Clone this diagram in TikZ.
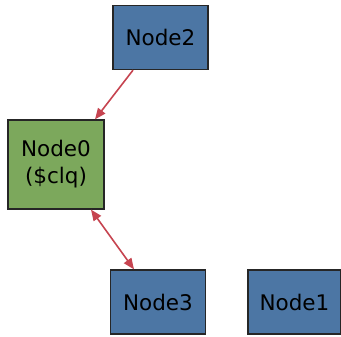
\documentclass[tikz,border=0pt]{standalone}
\usepackage{fontspec}
\setmainfont{DejaVu Sans}
\usetikzlibrary{arrows.meta}
\definecolor{nodeblue}{RGB}{76,118,164}
\definecolor{nodegreen}{RGB}{124,168,92}
\definecolor{edgered}{RGB}{198,68,80}
\begin{document}
\begin{tikzpicture}[x=1pt,y=1pt]
\tikzstyle{every node}+=[inner sep=0pt]
\tikzstyle{blk}=[draw=black!85, line width=1.3pt, fill=nodeblue, minimum width=95pt, minimum height=64pt, font=\fontsize{21.5}{27}\selectfont, align=center]
\tikzstyle{clq}=[blk, fill=nodegreen, minimum width=96pt, minimum height=89pt]
\tikzstyle{lnk}=[draw=edgered, line width=1.6pt, -{Triangle[length=11pt,width=9pt]}]
\useasboundingbox (0,0) rectangle (341,-337);
% the nodes
\node [blk] (n2) at (160.5,-37.5) {Node2};
\node [clq] (n0) at (56,-164.5) {Node0\\(\$clq)};
\node [blk] (n3) at (158,-302) {Node3};
\node [blk, minimum width=93pt] (n1) at (294.5,-302) {Node1};
% the edges
\draw [lnk] ([xshift=-27.5pt]n2.south) -- ([xshift=39pt]n0.north);
\draw [lnk, {Triangle[length=11pt,width=9pt]}-{Triangle[length=11pt,width=9pt]}] ([xshift=35pt]n0.south) -- ([xshift=-24pt]n3.north);
\end{tikzpicture}
\end{document}
